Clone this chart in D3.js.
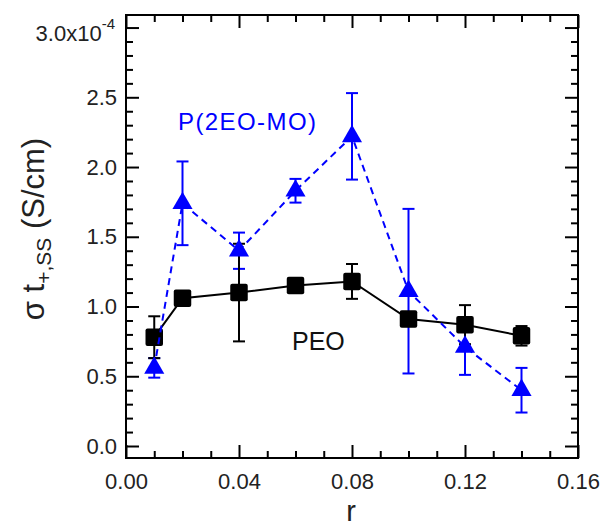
<!DOCTYPE html>
<html lang="en">
<head>
  <meta charset="utf-8">
  <title>sigma t+,ss vs r</title>
  <style>
    body {
      margin: 0;
      background: #fff;
    }

    svg {
      display: block;
    }

    text {
      font-family: "Liberation Sans", Arial, sans-serif;
    }

    .axis text {
      font-size: 22px;
      fill: #222;
    }

    .axis line {
      stroke: #000;
      stroke-width: 2px;
    }
  </style>
</head>
<body>

<svg width="601" height="529"></svg>
<script src="https://d3js.org/d3.v7.min.js"></script>
<script>

// r values, shared by both series
var rValues = [0.01, 0.02, 0.04, 0.06, 0.08, 0.10, 0.12, 0.14];

// PEO: sigma t+,ss in units of 1e-4 S/cm, with error
var peoVal = [0.78, 1.06, 1.10, 1.15, 1.18, 0.91, 0.87, 0.79];
var peoErr = [0.15, 0.03, 0.35, 0.03, 0.125, 0.05, 0.14, 0.07];

// P(2EO-MO)
var pVal = [0.56, 1.74, 1.40, 1.83, 2.22, 1.11, 0.71, 0.40];
var pErr = [0.07, 0.30, 0.13, 0.085, 0.31, 0.59, 0.20, 0.16];

// ticks
var xMajor = [0, 0.04, 0.08, 0.12, 0.16];
var xMinor = [0.01, 0.02, 0.03, 0.05, 0.06, 0.07, 0.09, 0.10, 0.11, 0.13, 0.14, 0.15];
var yMajor = [0, 0.5, 1.0, 1.5, 2.0, 2.5, 3.0];
var yMinor = d3.range(0, 31).map(function(i) { return i / 10; })
    .filter(function(v) { return Math.round(v * 10) % 5 !== 0; });

var svg = d3.select("svg");

var x = d3.scaleLinear().domain([0, 0.16]).range([126, 578]);
var y = d3.scaleLinear().domain([-0.086, 3.09]).range([458, 15]);

var blue = "#0000ff";

// ---- axes (ticks point inward on all four sides)
function addAxis(axis, tx, ty) {
  var g = svg.append("g")
      .attr("class", "axis")
      .attr("transform", "translate(" + tx + "," + ty + ")")
      .call(axis);
  g.select(".domain").remove();
  return g;
}

addAxis(d3.axisBottom(x).tickValues(xMinor).tickSize(-7).tickFormat(""), 0, 458);
addAxis(d3.axisBottom(x).tickValues(xMajor).tickSize(-13).tickPadding(15)
    .tickFormat(d3.format(".2f")), 0, 458);
addAxis(d3.axisTop(x).tickValues(xMinor).tickSize(-7).tickFormat(""), 0, 15);
addAxis(d3.axisTop(x).tickValues(xMajor).tickSize(-13).tickFormat(""), 0, 15);

addAxis(d3.axisLeft(y).tickValues(yMinor).tickSize(-7).tickFormat(""), 126, 0);
addAxis(d3.axisLeft(y).tickValues(yMajor).tickSize(-13).tickPadding(9)
    .tickFormat(function(d) { return d === 3 ? "" : d3.format(".1f")(d); }), 126, 0);
addAxis(d3.axisRight(y).tickValues(yMinor).tickSize(-7).tickFormat(""), 578, 0);
addAxis(d3.axisRight(y).tickValues(yMajor).tickSize(-13).tickFormat(""), 578, 0);

// top label with exponent
var topLbl = svg.append("text")
    .attr("x", 115)
    .attr("y", y(3.0) + 13)
    .attr("text-anchor", "end")
    .style("font-size", "22px")
    .style("fill", "#222");
topLbl.append("tspan").text("3.0x10");
topLbl.append("tspan").attr("dy", -11.5).style("font-size", "15px").text("-4");

// frame
svg.append("rect")
    .attr("x", 126)
    .attr("y", 15)
    .attr("width", 452)
    .attr("height", 443)
    .attr("fill", "none")
    .attr("stroke", "#000")
    .attr("stroke-width", 2);

// ---- series
var peo = rValues.map(function(r, i) { return {r: r, v: peoVal[i], e: peoErr[i]}; });
var pmo = rValues.map(function(r, i) { return {r: r, v: pVal[i], e: pErr[i]}; });

var line = d3.line()
    .x(function(d) { return x(d.r); })
    .y(function(d) { return y(d.v); });

function errorBars(data, color) {
  var g = svg.append("g")
      .attr("stroke", color)
      .attr("stroke-width", 2);
  g.selectAll(".stem")
    .data(data)
    .enter().append("line")
      .attr("x1", function(d) { return x(d.r); })
      .attr("x2", function(d) { return x(d.r); })
      .attr("y1", function(d) { return y(d.v - d.e); })
      .attr("y2", function(d) { return y(d.v + d.e); });
  [-1, 1].forEach(function(s) {
    g.selectAll(".cap" + s)
      .data(data)
      .enter().append("line")
        .attr("x1", function(d) { return x(d.r) - 6; })
        .attr("x2", function(d) { return x(d.r) + 6; })
        .attr("y1", function(d) { return y(d.v + s * d.e); })
        .attr("y2", function(d) { return y(d.v + s * d.e); });
  });
}

errorBars(pmo, blue);

svg.append("path")
    .datum(peo)
    .attr("d", line)
    .attr("fill", "none")
    .attr("stroke", "#000")
    .attr("stroke-width", 2);

errorBars(peo, "#000");

svg.append("g")
  .selectAll("rect")
  .data(peo)
  .enter().append("rect")
    .attr("x", function(d) { return x(d.r) - 8.75; })
    .attr("y", function(d) { return y(d.v) - 8.75; })
    .attr("width", 17.5)
    .attr("height", 17.5)
    .attr("rx", 2)
    .attr("fill", "#000");

svg.append("path")
    .datum(pmo)
    .attr("d", line)
    .attr("fill", "none")
    .attr("stroke", blue)
    .attr("stroke-width", 2)
    .attr("stroke-dasharray", "7,5");

svg.append("g")
  .selectAll("path")
  .data(pmo)
  .enter().append("path")
    .attr("d", d3.symbol(d3.symbolTriangle, 175))
    .attr("transform", function(d) {
      return "translate(" + x(d.r) + "," + y(d.v) + ")";
    })
    .attr("fill", blue);

// ---- series labels
svg.append("text")
    .attr("x", 178)
    .attr("y", 130)
    .attr("textLength", 138)
    .style("font-size", "24px")
    .style("fill", blue)
    .text("P(2EO-MO)");

svg.append("text")
    .attr("x", 292)
    .attr("y", 350)
    .style("font-size", "25px")
    .style("fill", "#111")
    .text("PEO");

// ---- axis titles
var yTitle = svg.append("text")
    .attr("transform", "translate(44,229) rotate(-90)")
    .attr("text-anchor", "middle")
    .style("font-size", "31px")
    .style("fill", "#222");
yTitle.append("tspan").text("σ t");
yTitle.append("tspan").attr("dy", 7).style("font-size", "21px").text("+,SS");
yTitle.append("tspan").attr("dy", -7).text(" (S/cm)");

// the reference clips this letter at the bottom edge; kept fully inside here
svg.append("text")
    .attr("x", 351)
    .attr("y", 521)
    .attr("text-anchor", "middle")
    .style("font-size", "29px")
    .style("fill", "#222")
    .text("r");

</script>
</body>
</html>
